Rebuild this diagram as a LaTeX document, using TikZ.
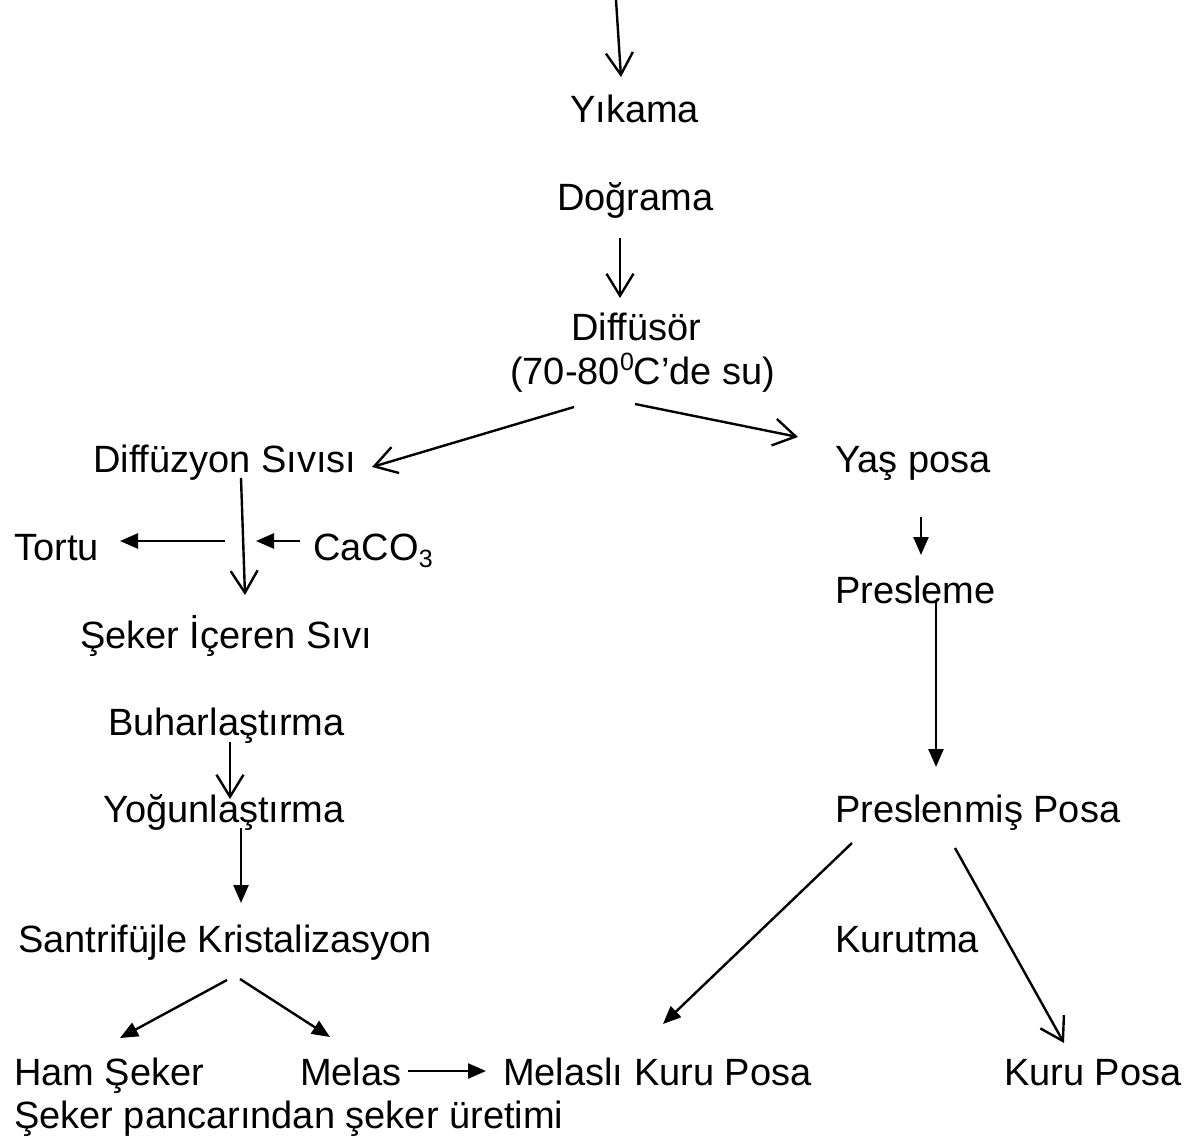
\documentclass[tikz,border=0pt]{standalone}
\usepackage{fontspec}
\setmainfont{Liberation Sans}
\usetikzlibrary{arrows.meta}
\begin{document}
\begin{tikzpicture}[x=1pt,y=-1pt,
  lbl/.style={anchor=base west, inner sep=0pt, font=\fontsize{38}{44}\selectfont},
  openarr/.style={-{Straight Barb[length=22pt,width=27pt,line width=2.4pt]}, line width=2.4pt},
  fillarr/.style={-{Triangle[length=18pt,width=15pt]}, line width=2.4pt}]
\useasboundingbox (0,0) rectangle (1184,1138);
\node[lbl] (yikama) at (570,122) {Yıkama};
\node[lbl] (dograma) at (557,210) {Doğrama};
\node[lbl] (diffusor) at (571,340) {Diffüsör};
\node[lbl] (su) at (510,384) {(70-80\raisebox{14pt}{\fontsize{25}{25}\selectfont 0}C’de su)};
\node[lbl] (dsivi) at (93,472) {Diffüzyon Sıvısı};
\node[lbl] (yas) at (835,472) {Yaş posa};
\node[lbl] (tortu) at (14,560) {Tortu};
\node[lbl] (caco) at (313,560) {CaCO\raisebox{-7pt}{\fontsize{25}{25}\selectfont 3}};
\node[lbl] (seker) at (80,648) {Şeker İçeren Sıvı};
\node[lbl] (presleme) at (835,603) {Presleme};
\node[lbl] (buhar) at (108,735) {Buharlaştırma};
\node[lbl] (yogun) at (103,822) {Yoğunlaştırma};
\node[lbl] (preslenmis) at (835,822) {Preslenmiş Posa};
\node[lbl] (santri) at (18,952) {Santrifüjle Kristalizasyon};
\node[lbl] (kurutma) at (835,952) {Kurutma};
\node[lbl] (ham) at (14,1085) {Ham Şeker};
\node[lbl] (melas) at (300,1085) {Melas};
\node[lbl] (melasli) at (503,1085) {Melaslı Kuru Posa};
\node[lbl] (kuru) at (1004,1085) {Kuru Posa};
\node[lbl] (title) at (14,1128) {Şeker pancarından şeker üretimi};
\coordinate (in0) at (616,0);
% connectors
\draw[openarr] (in0) -- ([shift={(51,-45)}]yikama.base west);
\draw[openarr] ([shift={(63,28)}]dograma.base west) -- ([shift={(49,-42)}]diffusor.base west);
\draw[openarr] ([shift={(64,23)}]su.base west) -- ([shift={(279,-5)}]dsivi.base west);
\draw[openarr] ([shift={(125,20)}]su.base west) -- ([shift={(-37,-35)}]yas.base west);
\draw[openarr] ([shift={(148,6)}]dsivi.base west) -- ([shift={(165,-53)}]seker.base west);
\draw[fillarr] ([shift={(-13,-19)}]caco.base west) -- ([shift={(-57,-19)}]caco.base west);
\draw[fillarr] ([shift={(211,-19)}]tortu.base west) -- ([shift={(106,-19)}]tortu.base west);
\draw[openarr] ([shift={(122,7)}]buhar.base west) -- ([shift={(127,-23)}]yogun.base west);
\draw[fillarr] ([shift={(138,6)}]yogun.base west) -- ([shift={(223,-49)}]santri.base west);
\draw[fillarr] ([shift={(209,28)}]santri.base west) -- ([shift={(106,-47)}]ham.base west);
\draw[fillarr] ([shift={(222,27)}]santri.base west) -- ([shift={(30,-48)}]melas.base west);
\draw[fillarr] ([shift={(108,-14)}]melas.base west) -- ([shift={(-17,-14)}]melasli.base west);
\draw[fillarr] ([shift={(86,45)}]yas.base west) -- ([shift={(86,-48)}]presleme.base west);
\draw[fillarr] ([shift={(101,-1)}]presleme.base west) -- ([shift={(101,-55)}]preslenmis.base west);
\draw[fillarr] ([shift={(17,21)}]preslenmis.base west) -- ([shift={(160,-61)}]melasli.base west);
\draw[openarr] ([shift={(120,26)}]preslenmis.base west) -- ([shift={(60,-42)}]kuru.base west);
\end{tikzpicture}
\end{document}
